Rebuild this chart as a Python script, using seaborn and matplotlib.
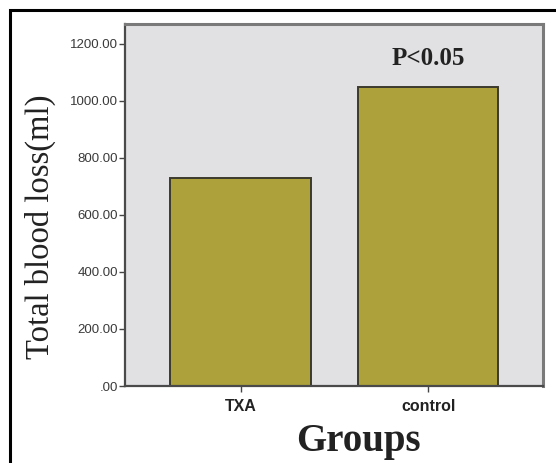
import pandas as pd
import matplotlib.pyplot as plt
import seaborn as sns
from matplotlib.patches import Rectangle

# datos
grupos = ["TXA", "control"]
perdida = [730, 1050]
ticks_y = [0, 200, 400, 600, 800, 1000, 1200]
etiquetas_y = [".00", "200.00", "400.00", "600.00", "800.00", "1000.00", "1200.00"]

df = pd.DataFrame({"grupo": grupos, "perdida": perdida})

sns.set_style("white")
fig = plt.figure(figsize=(5.56, 4.63), dpi=100)
ax = fig.add_axes([0.2248, 0.1663, 0.752, 0.782])
ax.set_facecolor("#e1e1e3")

sns.barplot(data=df, x="grupo", y="perdida", color="#aca13a", width=0.75,
            edgecolor="#3b3a2c", linewidth=1.4, saturation=1, ax=ax)

ax.set_ylim(0, 1270)
ax.set_xlim(-0.616, 1.613)
ax.set_yticks(ticks_y)
ax.set_yticklabels(etiquetas_y, fontsize=9.5, color="#3a3a3a", family="Liberation Sans")
ax.set_xticks([0, 1])
ax.set_xticklabels(grupos, fontsize=11.5, fontweight="bold", color="#222222", family="Liberation Sans")
ax.tick_params(axis="both", direction="out", length=4, width=1, color="#444444", left=True, bottom=True)
ax.tick_params(axis="y", pad=1)
ax.tick_params(axis="x", pad=5)
ax.set_xlabel("")
ax.set_ylabel("")

for lado in ["left", "bottom"]:
    ax.spines[lado].set_color("#4a4a4a")
    ax.spines[lado].set_linewidth(1.6)
for lado in ["right", "top"]:
    ax.spines[lado].set_color("#7a7a7a")
    ax.spines[lado].set_linewidth(2.2)

# titulos de ejes
fig.text(40 / 556, 1 - 227 / 463, "Total blood loss(ml)", rotation=90, ha="center", va="center",
         fontsize=23.5, family="Liberation Serif", color="#222222")
fig.text(358 / 556, 1 - 441 / 463, "Groups", ha="center", va="center",
         fontsize=28, fontweight="bold", family="Liberation Serif", color="#222222")

ax.text(1, 1150, "P<0.05", ha="center", va="center", fontsize=18, fontweight="bold",
        family="Liberation Serif", color="#222222")

# marco negro exterior (cortado a la derecha y abajo)
fig.patches.append(Rectangle((9.5 / 556, -0.05), 1.2, 1 - 10.5 / 463 + 0.05,
                             transform=fig.transFigure, fill=False,
                             edgecolor="black", linewidth=2.2, zorder=0))

fig.savefig("out.png", dpi=100)
plt.close()
